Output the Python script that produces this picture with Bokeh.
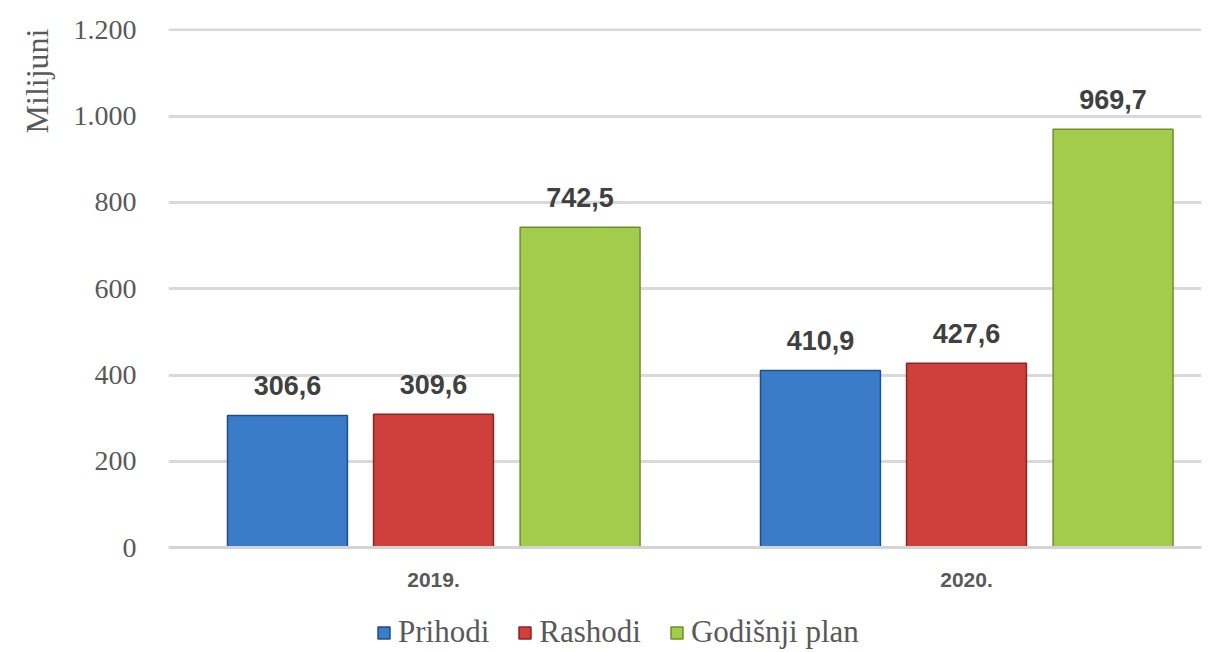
import math
from bokeh.plotting import figure
from bokeh.models import ColumnDataSource, FixedTicker, Legend, LegendItem, LabelSet, Title
from bokeh.core.properties import value
from bokeh.embed import file_html
from bokeh.resources import INLINE

# ---- data ----
years = ["2019.", "2020."]
series = ["Prihodi", "Rashodi", "Godišnji plan"]
prihodi = [306.6, 410.9]
rashodi = [309.6, 427.6]
plan = [742.5, 969.7]
y_ticks = [0, 200, 400, 600, 800, 1000, 1200]
y_tick_labels = ["0", "200", "400", "600", "800", "1.000", "1.200"]

colors = ["#3b7cc8", "#cf3f3b", "#a3cb4c"]
edge = ["#1f4f8a", "#8a2523", "#6e8f2c"]
offsets = [-0.274, 0.0, 0.275]
bar_w = 0.225

def fmt(v):
    return ("%.1f" % v).replace(".", ",")

p = figure(width=1209, height=650, output_backend="svg", toolbar_location=None,
           x_range=(-0.4972, 1.4409), y_range=(-238, 1203),
           min_border_left=168, min_border_right=8, min_border_top=28, min_border_bottom=0)
p.outline_line_color = None
p.background_fill_color = "white"

cats = list(range(len(years)))
renderers = []
for i, (name, vals) in enumerate(zip(series, [prihodi, rashodi, plan])):
    src = ColumnDataSource(dict(x=[c + offsets[i] for c in cats], top=vals,
                                lab=[fmt(v) for v in vals]))
    r = p.vbar(x="x", top="top", width=bar_w, source=src, fill_color=colors[i],
               line_color=edge[i], line_width=1.5)
    renderers.append(r)
    p.add_layout(LabelSet(x="x", y="top", text="lab", source=src, text_align="center",
                          text_baseline="bottom", y_offset=20,
                          text_font=value("Liberation Sans"), text_font_size="27px",
                          text_font_style="bold", text_color="#404040"))

# axes
p.yaxis.ticker = FixedTicker(ticks=y_ticks)
p.yaxis.major_label_overrides = {t: l for t, l in zip(y_ticks, y_tick_labels)}
p.yaxis.axis_line_color = None
p.yaxis.major_tick_line_color = None
p.yaxis.minor_tick_line_color = None
p.yaxis.major_label_text_font = "Liberation Serif"
p.yaxis.major_label_text_font_size = "28px"
p.yaxis.major_label_text_color = "#595959"
p.yaxis.major_label_standoff = 26

p.xaxis.fixed_location = 0
p.xaxis.ticker = FixedTicker(ticks=cats)
p.xaxis.major_label_overrides = {c: y for c, y in zip(cats, years)}
p.xaxis.axis_line_color = "#d4d4d4"
p.xaxis.axis_line_width = 3
p.xaxis.major_tick_line_color = None
p.xaxis.minor_tick_line_color = None
p.xaxis.major_label_text_font = "Liberation Sans"
p.xaxis.major_label_text_font_size = "21px"
p.xaxis.major_label_text_font_style = "bold"
p.xaxis.major_label_text_color = "#595959"
p.xaxis.major_label_standoff = 19

p.xgrid.grid_line_color = None
p.ygrid.grid_line_color = "#d9d9d9"
p.ygrid.grid_line_width = 3
p.ygrid.ticker = FixedTicker(ticks=y_ticks)

# y title
p.add_layout(Title(text="Milijuni", align="right", text_font="Liberation Serif",
                   text_font_size="32px", text_font_style="normal",
                   text_color="#595959", standoff=32), "left")

legend = Legend(items=[LegendItem(label=s, renderers=[r]) for s, r in zip(series, renderers)],
                orientation="horizontal", location=(208, 0),
                label_text_font="Liberation Serif", label_text_font_size="31px",
                label_text_color="#595959", glyph_width=15, glyph_height=15,
                label_standoff=7, spacing=28, padding=0, margin=0,
                border_line_color=None, background_fill_alpha=0)
p.add_layout(legend, "center")

open("out.html", "w").write(file_html(p, INLINE))
